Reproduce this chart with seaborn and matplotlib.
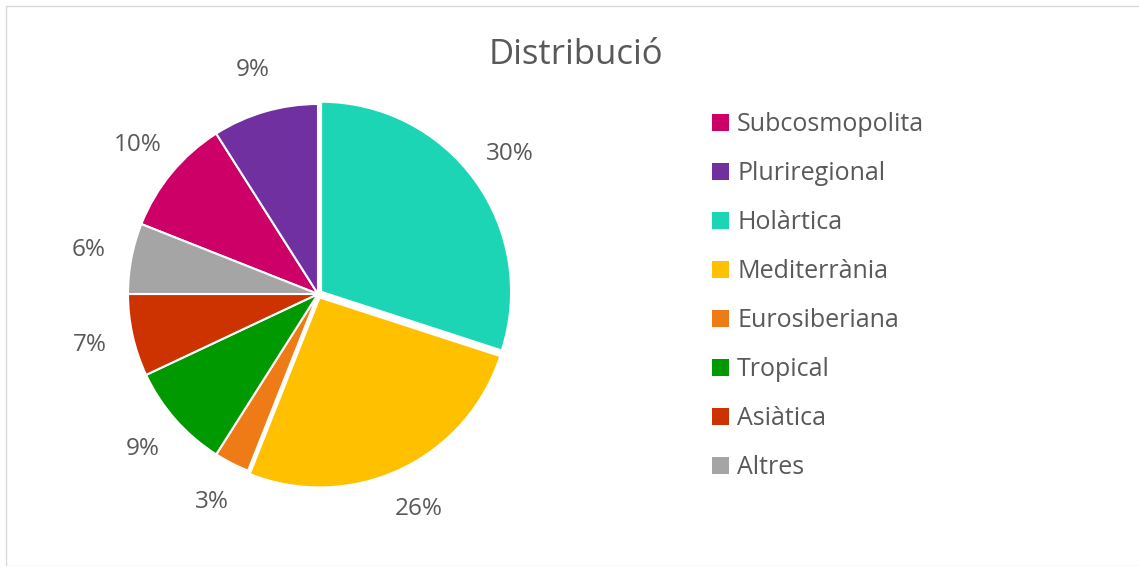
import matplotlib
matplotlib.use("Agg")
import matplotlib.pyplot as plt
from matplotlib.patches import Patch, Rectangle
import seaborn as sns

categories = ["Subcosmopolita", "Pluriregional", "Holàrtica", "Mediterrània",
              "Eurosiberiana", "Tropical", "Asiàtica", "Altres"]
values = [10, 9, 30, 26, 3, 9, 7, 6]
colors = ["#CC0066", "#7030A0", "#1BD5B4", "#FFC000",
          "#EE7B16", "#009900", "#CC3300", "#A5A5A5"]
explode = [0, 0, 0.02, 0.02, 0, 0, 0, 0]
title = "Distribució"

sns.set_theme(style="white")
plt.rcParams["font.family"] = ["Open Sans", "DejaVu Sans"]
txt = "#595959"

fig = plt.figure(figsize=(11.39, 5.66), dpi=100)
W, H = 1139, 566
cx, cy, r = 318, 294, 190
ax = fig.add_axes([(cx - r) / W, (H - cy - r) / H, 2 * r / W, 2 * r / H])

pal = sns.color_palette(colors)
total = sum(values)
start = 90 + (values[0] + values[1]) / total * 360
wedges, texts, autotexts = ax.pie(
    values, colors=pal, startangle=start, counterclock=False,
    explode=explode, radius=1,
    autopct=lambda p: f"{p:.0f}%", pctdistance=1.23,
    wedgeprops=dict(edgecolor="white", linewidth=1.5),
    textprops=dict(color=txt, fontsize=17.5))
ax.set_xlim(-1, 1)
ax.set_ylim(-1, 1)
ax.set_aspect("equal")
ax.axis("off")

fig.text(576 / W, 1 - 55 / H, title, ha="center", va="center",
         fontsize=25, color=txt)

handles = [Patch(facecolor=c, edgecolor="none") for c in pal]
leg = fig.legend(handles, categories, loc="upper left",
                 bbox_to_anchor=(702 / W, 1 - 102 / H), frameon=False,
                 borderaxespad=0, fontsize=18, labelcolor=txt,
                 handlelength=0.68, handleheight=0.68, handletextpad=0.32,
                 labelspacing=0.96)

fig.patches.append(Rectangle((6 / W, 0), 1, 1 - 6 / H, transform=fig.transFigure,
                             fill=False, edgecolor="#D9D9D9", linewidth=1))

fig.savefig("out.png", dpi=100, facecolor="white")
